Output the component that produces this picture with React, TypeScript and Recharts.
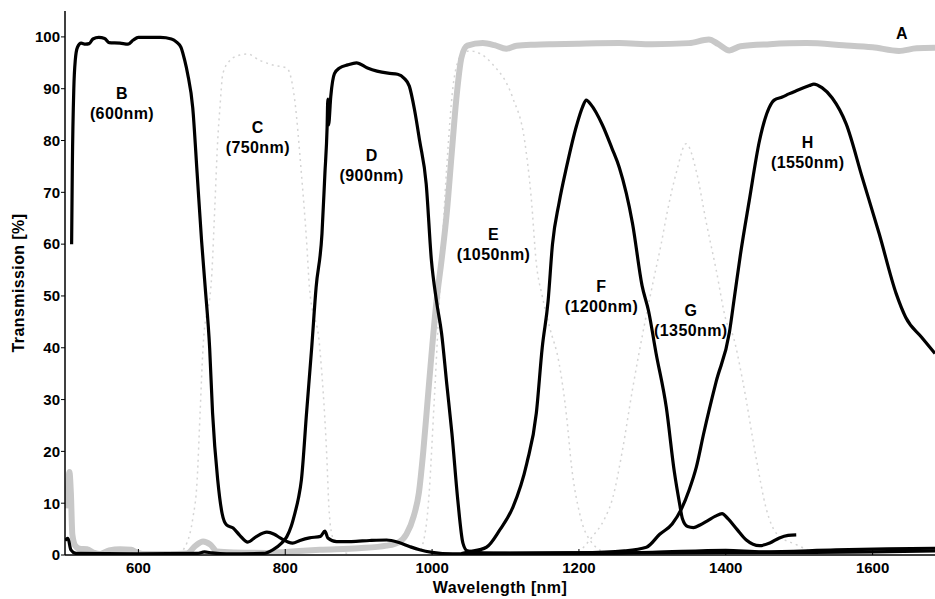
import React from 'react';
import { ComposedChart, Line, XAxis, YAxis, Scatter } from 'recharts';

const FONT = '"Liberation Sans", Arial, Helvetica, sans-serif';

const xDomain: [number, number] = [500, 1685];
const yDomain: [number, number] = [0, 105];
const xTicks = [600, 800, 1000, 1200, 1400, 1600];
const yTicks = [0, 10, 20, 30, 40, 50, 60, 70, 80, 90, 100];

// A: broad long-pass (grey)
const filterA: [number, number][] = [
  [502, 9], [504, 13], [506, 16], [508, 12], [510, 4], [514, 1.8], [520, 1.2], [530, 1.1], [540, 0.4],
  [548, 0.2], [560, 0.9], [575, 1.1], [590, 1.0], [598, 0.5], [606, 0.2], [640, 0.2], [666, 0.3],
  [678, 1.8], [688, 2.6], [698, 2.0], [707, 0.7], [730, 0.5], [775, 0.4], [800, 0.6], [847, 1.0],
  [900, 1.3], [938, 1.8], [955, 2.5], [965, 4], [975, 7.5], [982, 12], [988, 20], [994, 30],
  [1000, 40], [1006, 49], [1013, 57], [1020, 66], [1027, 78], [1033, 88], [1040, 96], [1048, 98.3],
  [1069, 98.8], [1085, 98.4], [1101, 97.7], [1115, 98.3], [1140, 98.5], [1164, 98.6], [1200, 98.7],
  [1255, 98.8], [1300, 98.6], [1350, 98.8], [1377, 99.5], [1390, 98.6], [1405, 97.4], [1420, 98.2],
  [1460, 98.6], [1510, 98.8], [1560, 98.4], [1600, 98.0], [1636, 97.3], [1660, 97.8], [1685, 97.9],
];

// B: 600 nm
const filterB: [number, number][] = [
  [509, 60], [510, 75], [512, 90], [514, 95.5], [517, 98], [522, 98.8], [528, 98.6], [533, 98.7],
  [538, 99.6], [546, 99.9], [554, 99.7], [560, 98.9], [575, 98.8], [586, 98.6], [593, 99.4], [600, 99.9],
  [630, 99.9], [645, 99.6], [652, 99.0], [658, 98], [663, 95.5], [667, 92.9], [674, 86.3], [680, 73.6],
  [686, 60.7], [691, 51.6], [697, 40], [701, 27.4], [708, 14.5], [714, 8], [720, 5.8], [729, 5.2],
  [738, 3.8], [749, 2.5], [760, 3.5], [775, 4.4], [785, 4.0], [793, 3.3], [810, 2.3], [820, 2.8],
  [833, 3.3], [848, 3.6], [854, 4.6], [858, 3.3], [870, 2.6], [890, 2.6], [915, 2.8], [938, 2.9],
  [955, 2.4], [970, 1.6], [983, 1.0], [1000, 0.5], [1028, 0.2], [1100, 0.3], [1200, 0.4], [1300, 0.4],
  [1400, 0.5], [1500, 0.5], [1600, 0.6], [1685, 0.8],
];

// C: 750 nm (dotted)
const filterC: [number, number][] = [
  [655, 0.3], [666, 2.3], [674, 7], [680, 14.5], [684, 27.4], [688, 40], [700, 54.3], [704, 67],
  [708, 80], [711, 86.3], [715, 92.9], [725, 95.5], [738, 96.5], [749, 96.7], [765, 95.5], [785, 94.5],
  [802, 94], [813, 87.7], [822, 73.6], [829, 60.7], [833, 51.6], [847, 40], [856, 20.8], [860, 8],
  [865, 3], [870, 1.3], [885, 0.3],
];

// D: 900 nm
const filterD: [number, number][] = [
  [500, 2.8], [504, 3.2], [508, 1], [515, 0.3], [600, 0.2], [680, 0.3], [690, 0.6], [700, 0.4],
  [720, 0.2], [770, 0.3], [783, 1], [795, 2.3], [802, 3.5], [808, 5.5], [813, 8], [818, 11],
  [822, 14.5], [829, 27.4], [836, 40], [842, 51.6], [850, 62], [854, 73.6], [857, 82.5],
  [858, 88], [859, 83], [862, 88.5], [867, 92.9], [874, 94], [885, 94.6], [897, 95], [912, 94],
  [925, 93.4], [940, 93], [953, 92.8], [962, 92], [969, 90.5], [976, 86], [983, 80], [992, 71.6],
  [999, 57], [1006, 49], [1013, 42.7], [1020, 33], [1027, 23.5], [1035, 10.6], [1042, 2.3], [1048, 0.8],
  [1070, 0.4], [1200, 0.3], [1300, 0.5], [1400, 0.9], [1450, 0.6], [1550, 1.0], [1620, 1.2], [1685, 1.3],
];

// E: 1050 nm (dotted)
const filterE: [number, number][] = [
  [985, 1], [995, 10], [1003, 30], [1012, 55], [1020, 75], [1030, 92], [1040, 96.5], [1051, 97.3],
  [1082, 94.8], [1110, 88.2], [1126, 80], [1135, 69], [1142, 56.3], [1150, 50], [1160, 44], [1173, 37],
  [1183, 27], [1190, 17], [1201, 8], [1218, 2.3], [1240, 0.3],
];

// F: 1200 nm
const filterF: [number, number][] = [
  [1040, 0.3], [1050, 0.6], [1074, 1.5], [1092, 4.8], [1110, 9.2], [1129, 17.7], [1142, 27.4],
  [1150, 40], [1158, 49], [1164, 60], [1173, 68], [1183, 74.8], [1197, 83], [1205, 86.5], [1210, 87.8],
  [1216, 87], [1232, 83], [1245, 78.5], [1255, 74.8], [1273, 64], [1286, 52], [1295, 47], [1305, 39],
  [1319, 28.5], [1330, 16], [1337, 10], [1341, 7], [1348, 5.5], [1356, 5.3], [1365, 5.8],
  [1375, 6.6], [1386, 7.5], [1395, 8], [1403, 7], [1415, 5], [1428, 2.9], [1446, 1.8], [1460, 2.3],
  [1473, 3.3], [1485, 3.8], [1496, 3.9],
];

// G: 1350 nm (dotted)
const filterG: [number, number][] = [
  [1200, 0.5], [1218, 3.5], [1235, 7], [1246, 11], [1259, 20], [1273, 32], [1290, 45], [1303, 54],
  [1312, 60], [1320, 66], [1333, 74], [1346, 79.4], [1360, 74], [1373, 64.5], [1387, 55], [1401, 45],
  [1409, 42.7], [1423, 33.7], [1441, 19], [1455, 9], [1470, 4], [1496, 2], [1520, 0.5],
];

// H: 1550 nm
const filterH: [number, number][] = [
  [1040, 0.2], [1200, 0.4], [1262, 0.8], [1292, 1.5], [1310, 4], [1327, 6], [1340, 9], [1350, 12.5],
  [1360, 17], [1370, 23.5], [1387, 33.5], [1405, 43], [1412, 50], [1420, 58], [1432, 68.4], [1446, 80],
  [1459, 86.3], [1466, 87.8], [1477, 88.4], [1486, 89], [1496, 89.6], [1514, 90.6], [1520, 90.9],
  [1531, 90.2], [1545, 88.2], [1564, 83.2], [1586, 72.8], [1609, 62], [1632, 50.5], [1645, 45.9],
  [1667, 42], [1685, 38.9],
];

// curve annotations
const labelNames = ['A', 'B', 'C', 'D', 'E', 'F', 'G', 'H'];
const labelSubs = ['', '(600nm)', '(750nm)', '(900nm)', '(1050nm)', '(1200nm)', '(1350nm)', '(1550nm)'];
const labelNm = [1640, 577.6, 762.6, 917.7, 1083.7, 1230.6, 1352.4, 1511.6];
const labelVal = [100.6, 87.2, 80.5, 75.1, 59.9, 49.8, 45.3, 77.6];

const toPts = (arr: [number, number][]) => arr.map(([x, y]) => ({ x, y }));
const labelData = labelNames.map((n, i) => ({ x: labelNm[i], y: labelVal[i], name: n, sub: labelSubs[i] }));

const textStyle = { fontFamily: FONT, fontWeight: 700 as const, fill: '#000' };

const BottomTick = (props: any) => {
  const { x, y, payload } = props;
  return (
    <g>
      <line x1={x} x2={x} y1={y} y2={y - 6} stroke="#000" strokeWidth={1} />
      <text x={x} y={y + 18} textAnchor="middle" fontSize={15} {...textStyle}>{payload.value}</text>
    </g>
  );
};

const TopTick = (props: any) => {
  const { x, y } = props;
  return <line x1={x} x2={x} y1={y} y2={y + 6} stroke="#000" strokeWidth={1} />;
};

const LabelShape = (props: any) => {
  const { cx, cy, payload } = props;
  const two = !!payload.sub;
  return (
    <g>
      <text x={cx} y={two ? cy - 10 : cy} textAnchor="middle" dominantBaseline="central" fontSize={16} letterSpacing={0.4} {...textStyle}>{payload.name}</text>
      {two && (
        <text x={cx} y={cy + 10} textAnchor="middle" dominantBaseline="central" fontSize={16} letterSpacing={0.4} {...textStyle}>{payload.sub}</text>
      )}
    </g>
  );
};

const blackLine = { stroke: '#000', strokeWidth: 3.2, dot: false, activeDot: false, isAnimationActive: false, type: 'monotone' as const, strokeLinejoin: 'round' as const };
const dottedLine = { stroke: '#d4d4d4', strokeWidth: 1.5, strokeDasharray: '2 4', dot: false, activeDot: false, isAnimationActive: false, type: 'monotone' as const };

export default function App() {
  return (
    <div style={{ position: 'absolute', left: 0, top: 0, width: 935, height: 599, background: '#fff' }}>
      <ComposedChart width={935} height={599} margin={{ top: 11, right: 0, left: 0, bottom: 0 }}>
        <XAxis
          xAxisId="top"
          orientation="top"
          type="number"
          dataKey="x"
          domain={xDomain}
          ticks={xTicks}
          allowDataOverflow
          height={0}
          tickSize={0}
          tickMargin={0}
          tickLine={false}
          tick={<TopTick />}
          axisLine={{ stroke: '#000', strokeWidth: 1 }}
        />
        <XAxis
          type="number"
          dataKey="x"
          domain={xDomain}
          ticks={xTicks}
          allowDataOverflow
          height={44}
          tickSize={0}
          tickMargin={0}
          tickLine={false}
          tick={<BottomTick />}
          axisLine={{ stroke: '#000', strokeWidth: 1.5 }}
          label={{
            content: (p: any) => {
              const vb = p.viewBox || { x: 65, y: 555, width: 870, height: 44 };
              return (
                <text x={vb.x + vb.width / 2} y={vb.y + 38} textAnchor="middle" fontSize={16} letterSpacing={0.4} {...textStyle}>
                  Wavelength [nm]
                </text>
              );
            },
          }}
        />
        <YAxis
          type="number"
          domain={yDomain}
          ticks={yTicks}
          allowDataOverflow
          width={65}
          tickSize={4}
          tickMargin={1}
          tickLine={{ stroke: '#000' }}
          axisLine={{ stroke: '#000', strokeWidth: 1.5 }}
          tick={{ fontSize: 15, fontFamily: FONT, fontWeight: 700, fill: '#000' }}
          label={{
            content: (p: any) => {
              const vb = p.viewBox || { x: 0, y: 11, width: 65, height: 544 };
              const cx = vb.x + 18;
              const cy = vb.y + vb.height / 2;
              return (
                <text x={cx} y={cy} transform={`rotate(-90, ${cx}, ${cy})`} textAnchor="middle" dominantBaseline="central" fontSize={16} letterSpacing={0.4} {...textStyle}>
                  Transmission [%]
                </text>
              );
            },
          }}
        />
        <Line data={toPts(filterC)} dataKey="y" {...dottedLine} />
        <Line data={toPts(filterE)} dataKey="y" {...dottedLine} />
        <Line data={toPts(filterG)} dataKey="y" {...dottedLine} />
        <Line data={toPts(filterA)} dataKey="y" stroke="#c8c8c8" strokeWidth={6} dot={false} activeDot={false} isAnimationActive={false} type="monotone" strokeLinejoin="round" />
        <Line data={toPts(filterB)} dataKey="y" {...blackLine} />
        <Line data={toPts(filterD)} dataKey="y" {...blackLine} />
        <Line data={toPts(filterF)} dataKey="y" {...blackLine} />
        <Line data={toPts(filterH)} dataKey="y" {...blackLine} />
        <Scatter data={labelData} dataKey="y" shape={<LabelShape />} isAnimationActive={false} />
      </ComposedChart>
    </div>
  );
}
